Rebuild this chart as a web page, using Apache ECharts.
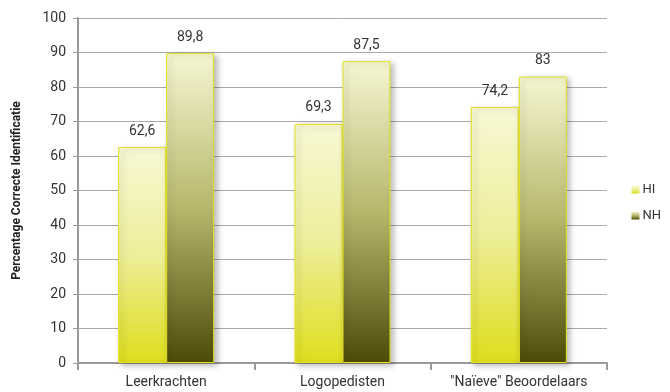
<!DOCTYPE html>
<html>
<head>
<meta charset="utf-8">
<script src="https://cdn.jsdelivr.net/npm/echarts@6/dist/echarts.min.js"></script>
<style>
  html, body { margin: 0; padding: 0; background: #fff; }
  #chart { width: 670px; height: 392px; }
</style>
</head>
<body>
<div id="chart"></div>
<script>
// Listener groups and identification scores (percent correct)
const categories = ['Leerkrachten', 'Logopedisten', '"Naïeve" Beoordelaars'];
const hiValues = [62.6, 69.3, 74.2];
const nhValues = [89.8, 87.5, 83];
const yTicks = [0, 10, 20, 30, 40, 50, 60, 70, 80, 90, 100];

const fontFamily = 'Roboto, "DejaVu Sans", sans-serif';

function fmt(v) {
  return String(v).replace('.', ',');
}

function grad(top, mid, bottom) {
  return new echarts.graphic.LinearGradient(0, 0, 0, 1, [
    { offset: 0, color: top },
    { offset: 0.5, color: mid },
    { offset: 1, color: bottom }
  ]);
}

const barStyleCommon = {
  borderColor: '#e2e21a',
  borderWidth: 1,
  shadowColor: 'rgba(0,0,0,0.28)',
  shadowBlur: 6,
  shadowOffsetX: 3,
  shadowOffsetY: 2
};

const labelCommon = {
  show: true,
  position: 'top',
  distance: 9,
  color: '#333',
  fontSize: 14,
  fontFamily: fontFamily,
  formatter: p => fmt(p.value)
};

const chart = echarts.init(document.getElementById('chart'), null, { renderer: 'canvas' });

chart.setOption({
  animation: false,
  backgroundColor: '#ffffff',
  grid: { left: 78, right: 63, top: 18, bottom: 29, containLabel: false },
  legend: {
    orient: 'vertical',
    right: 4,
    top: 178,
    itemWidth: 8,
    itemHeight: 8,
    itemGap: 13,
    icon: 'rect',
    itemStyle: { borderWidth: 0, shadowBlur: 0, shadowOffsetX: 0, shadowOffsetY: 0 },
    textStyle: { color: '#333', fontSize: 13, fontFamily: fontFamily, padding: [0, 0, 0, -2] },
    data: ['HI', 'NH']
  },
  xAxis: {
    type: 'category',
    data: categories,
    axisLine: { lineStyle: { color: '#999', width: 2 } },
    axisTick: { show: true, length: 7, lineStyle: { color: '#999', width: 2 } },
    axisLabel: { color: '#333', fontSize: 14, fontFamily: fontFamily, margin: 12, interval: 0 }
  },
  yAxis: {
    type: 'value',
    min: yTicks[0],
    max: yTicks[yTicks.length - 1],
    interval: yTicks[1] - yTicks[0],
    name: 'Percentage Correcte Identificatie',
    nameLocation: 'middle',
    nameGap: 55,
    nameTextStyle: { color: '#222', fontSize: 12, fontWeight: 'bold', fontFamily: fontFamily },
    axisLine: { show: true, lineStyle: { color: '#999', width: 2 } },
    axisTick: { show: true, length: 5, lineStyle: { color: '#999' } },
    axisLabel: { color: '#333', fontSize: 14, fontFamily: fontFamily, margin: 12 },
    splitLine: { lineStyle: { color: '#aaa', width: 1 } }
  },
  series: [
    {
      name: 'HI',
      type: 'bar',
      data: hiValues,
      barWidth: 48,
      barGap: '0%',
      itemStyle: Object.assign({ color: grad('#f8f8d6', '#eeee9a', '#dede1c') }, barStyleCommon),
      label: labelCommon
    },
    {
      name: 'NH',
      type: 'bar',
      data: nhValues,
      barWidth: 48,
      itemStyle: Object.assign({ color: grad('#f6f6d2', '#b7b76c', '#4e4b08') }, barStyleCommon),
      label: labelCommon
    }
  ]
});
</script>
</body>
</html>
